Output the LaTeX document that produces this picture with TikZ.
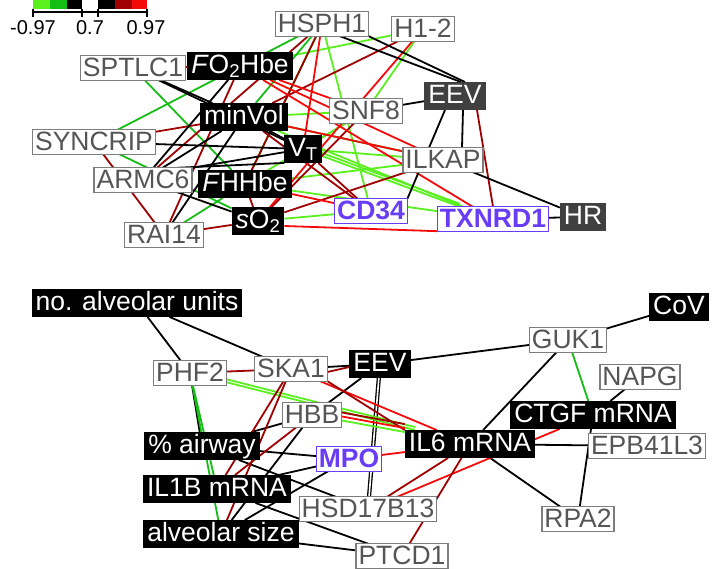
\documentclass[tikz,border=0pt]{standalone}
\usepackage{fontspec}
\setmainfont{Liberation Sans}
\definecolor{lgreen}{RGB}{90,240,30}
\definecolor{dgreen}{RGB}{20,190,20}
\definecolor{dred}{RGB}{160,0,0}
\definecolor{bred}{RGB}{245,10,10}
\definecolor{gtext}{RGB}{85,85,85}
\definecolor{gbord}{RGB}{125,125,125}
\definecolor{purp}{RGB}{105,60,245}
\definecolor{dkfill}{RGB}{64,64,64}
\pgfdeclarelayer{edges}
\pgfsetlayers{edges,main}
\begin{document}
\begin{tikzpicture}[x=1pt,y=-1pt,
  every node/.style={font=\fontsize{26.5}{30}\selectfont, inner ysep=2.2pt, outer sep=0pt},
  gene/.style={draw=gbord, line width=1.3pt, fill=white, text=gtext, inner xsep=2.5pt, text height=18.5pt, text depth=1.5pt},
  prot/.style={draw=purp, line width=1.3pt, fill=white, text=purp, font=\fontsize{26.5}{30}\selectfont\bfseries, inner xsep=2.5pt, text height=18.5pt, text depth=1.5pt},
  trait/.style={fill=black, text=white, inner xsep=4pt, text height=19pt, text depth=4.5pt},
  traitd/.style={trait, fill=dkfill},
  legtext/.style={font=\fontsize{20}{24}\selectfont, anchor=base, inner sep=0pt},
  ed/.style={line width=1.8pt},
  lg/.style={ed, lgreen}, gn/.style={ed, dgreen}, dr/.style={ed, dred}, rd/.style={ed, bred}, bk/.style={ed, black},
]
\useasboundingbox (0,0) rectangle (717,569);

% colour scale
\fill[lgreen] (33,0) rectangle (50,9);
\fill[dgreen] (50,0) rectangle (67,9);
\fill[black] (67,0) rectangle (82,9);
\fill[white] (82,0) rectangle (98,9);
\fill[black] (98,0) rectangle (115,9);
\fill[dred] (115,0) rectangle (132,9);
\fill[bred] (132,0) rectangle (147,9);
\draw[line width=1.3pt] (33,12) -- (147,12);
\foreach \t in {33,82,98,147} \draw[line width=1.3pt] (\t,9) -- (\t,17);
\node[legtext] (l1) at (33,35) {-0.97};
\node[legtext] (l2) at (90,35) {0.7};
\node[legtext] (l3) at (146,35) {0.97};

% ---- upper network ----
\node[gene] (HSPH1) at (322,24) {HSPH1};
\node[gene] (H12) at (423,29) {H1-2};
\node[gene] (SPTLC1) at (133,68) {SPTLC1};
\node[trait] (FO2) at (240,66) {\textit{F}O\textsubscript{2}Hbe};
\node[gene] (SNF8) at (366,111) {SNF8};
\node[traitd] (EEVt) at (455,96) {EEV};
\node[trait] (minVol) at (244,117) {minVol};
\node[gene] (SYNCRIP) at (94,142) {SYNCRIP};
\node[trait] (VT) at (303,149) {V\textsubscript{T}};
\node[gene] (ILKAP) at (443,160) {ILKAP};
\node[gene] (ARMC6) at (143,180) {ARMC6};
\node[trait] (FHHbe) at (245,184) {\textit{F}HHbe};
\node[trait] (sO2) at (258,221) {\textit{s}O\textsubscript{2}};
\node[prot] (CD34) at (371,211) {CD34};
\node[prot] (TXNRD1) at (493,219) {TXNRD1};
\node[traitd] (HR) at (583,217) {HR};
\node[gene] (RAI14) at (164,235) {RAI14};

% ---- lower network ----
\node[trait] (noalv) at (137,303) {no. alveolar units};
\node[trait] (CoV) at (679,307) {CoV};
\node[gene] (GUK1) at (568,340) {GUK1};
\node[gene] (PHF2) at (190,373) {PHF2};
\node[gene] (SKA1) at (291,369) {SKA1};
\node[trait] (EEVb) at (380,364) {EEV};
\node[gene] (NAPG) at (640,377) {NAPG};
\node[gene] (HBB) at (312,415) {HBB};
\node[trait] (CTGF) at (593,415) {CTGF mRNA};
\node[trait] (airway) at (202,446) {\% airway};
\node[trait] (IL6) at (470,444) {IL6 mRNA};
\node[gene] (EPB) at (647,446) {EPB41L3};
\node[prot] (MPO) at (349,459) {MPO};
\node[trait] (IL1B) at (217,489) {IL1B mRNA};
\node[gene] (HSD) at (368,509) {HSD17B13};
\node[gene] (RPA2) at (578,519) {RPA2};
\node[trait] (alvsize) at (221,534) {alveolar size};
\node[gene] (PTCD1) at (402,556) {PTCD1};

\begin{pgfonlayer}{edges}
% upper network: positive correlations
\draw[lg] (H12) -- (SNF8);
\draw[lg] (H12) -- (FO2);
\draw[lg] (HSPH1) -- (CD34);
\draw[lg] (VT) -- (TXNRD1);
\draw[lg,transform canvas={yshift=3pt}] (VT) -- (TXNRD1);
\draw[lg] (minVol) -- (TXNRD1);
\draw[lg] (FHHbe) -- (ILKAP);
\draw[lg] (VT) -- (ILKAP);
\draw[lg] (sO2) -- (CD34);
\draw[lg] (FHHbe) -- (TXNRD1);
\draw[lg] (SNF8) -- (FHHbe);
\draw[lg] (SNF8) -- (VT);
\draw[lg] (SNF8) -- (minVol);
\draw[gn] (SYNCRIP) -- (HSPH1);
\draw[gn] (SPTLC1) -- (FHHbe);
\draw[gn] (FHHbe) -- (RAI14);
\draw[gn] (minVol) -- (ILKAP);
\draw[gn] (SYNCRIP) -- (sO2);
\draw[gn] (HSPH1) -- (minVol);
\draw[gn] (HSPH1) -- (FHHbe);
% upper network: negative correlations
\draw[dr] ([xshift=22pt]EEVt.south) -- (TXNRD1.north);
\draw[dr] (SPTLC1) -- (FO2);
\draw[dr] (SYNCRIP) -- (minVol);
\draw[dr] (SYNCRIP) -- (RAI14);
\draw[dr] (RAI14) -- (FO2);
\draw[dr] (RAI14) -- (sO2);
\draw[dr] (FHHbe) -- (sO2);
\draw[dr] (HSPH1) -- (ARMC6);
\draw[dr] (H12) -- (minVol);
\draw[dr] (sO2) -- (ILKAP);
\draw[dr] (VT) -- (CD34);
\draw[dr] (SNF8) -- (sO2);
\draw[dr] (minVol) -- (CD34);
\draw[dr] (HSPH1) -- (FHHbe);
\draw[rd] (FO2) -- (TXNRD1);
\draw[rd] ([yshift=-5pt]sO2.east) -- (TXNRD1.south west);
\draw[rd] (H12) -- (sO2);
\draw[rd] (FHHbe) -- (CD34);
\draw[rd] (FO2) -- (SNF8);
\draw[rd] (FO2) -- (ILKAP);
\draw[rd] (HSPH1) -- (VT);
\draw[rd] (minVol) -- (ILKAP);
% upper network: other links
\draw[bk] ([xshift=18pt]HSPH1.south) -- ([xshift=6pt]EEVt.north);
\draw[bk] (HSPH1.south east) -- ([xshift=10pt]EEVt.north);
\draw[bk] (SNF8) -- (EEVt);
\draw[bk] ([xshift=8pt]EEVt.south) -- ([xshift=19pt]ILKAP.north);
\draw[bk] ([xshift=-10pt]EEVt.south) -- (CD34.north east);
\draw[bk] (ILKAP) -- (HR);
\draw[bk] (TXNRD1) -- (HR);
\draw[bk] (SPTLC1) -- (minVol);
\draw[bk] (SPTLC1) -- (VT);
\draw[bk] (FO2) -- (ARMC6);
\draw[bk] (minVol) -- (ARMC6);
\draw[bk] (minVol) -- (RAI14);
\draw[bk] (SYNCRIP) -- (VT);
\draw[bk] (ARMC6.north east) -- (VT);
\draw[bk] ([xshift=-15pt]ARMC6.north east) -- (VT.south west);
\draw[bk] (ARMC6) -- (sO2);
\draw[bk] (minVol) -- (VT);

% lower network
\draw[bk] (noalv) -- (PHF2);
\draw[bk] (noalv) -- (SKA1);
\draw[bk] (SKA1) -- (EEVb);
\draw[bk] (EEVb) -- (GUK1);
\draw[bk] (GUK1) -- (CoV);
\draw[bk] (GUK1) -- (IL6);
\draw[bk] (NAPG) -- (CTGF);
\draw[bk] (CTGF) -- (RPA2);
\draw[bk] (IL6) -- (EPB);
\draw[bk] (IL6) -- (RPA2);
\draw[bk] (EEVb) -- (HBB);
\draw[bk,double=white,double distance=1.6pt,line width=1.3pt] (EEVb) -- (HSD);
\draw[bk] (HBB) -- (airway);
\draw[bk] (HBB) -- (alvsize);
\draw[bk] (airway) -- (MPO);
\draw[bk] (IL1B) -- (MPO);
\draw[bk] (MPO) -- (alvsize);
\draw[bk] (PHF2) -- (airway);
\draw[bk] (airway) -- (HSD);
\draw[bk] (IL1B) -- (PTCD1);
\draw[bk] (alvsize) -- (PTCD1);
\draw[bk] (alvsize) -- (HSD);
\draw[lg] (PHF2) -- (IL6);
\draw[lg,transform canvas={yshift=3pt}] (PHF2) -- (IL6);
\draw[gn] (PHF2) -- (IL1B);
\draw[gn] (PHF2) -- (alvsize);
\draw[gn] (GUK1) -- (CTGF);
\draw[lg] (HBB) -- (IL6);
\draw[dr] (PHF2) -- (SKA1);
\draw[dr] (SKA1) -- (IL1B);
\draw[dr] (SKA1) -- (alvsize);
\draw[dr] ([yshift=-3pt]SKA1.east) -- ([yshift=-3pt]EEVb.west);
\draw[rd] (SKA1) -- (IL6);
\draw[dr] (SKA1.south east) -- (IL6.north west);
\draw[dr] (HBB) -- (IL1B);
\draw[rd,transform canvas={yshift=4pt}] (HBB) -- (IL6);
\draw[dr,transform canvas={yshift=8pt}] (HBB) -- (IL6);
\draw[rd] (MPO) -- (IL6);
\draw[rd] (HSD) -- (CTGF);
\draw[dr] (HSD) -- (IL6);
\draw[dr] (PTCD1) -- (IL6);
\end{pgfonlayer}
\end{tikzpicture}
\end{document}
